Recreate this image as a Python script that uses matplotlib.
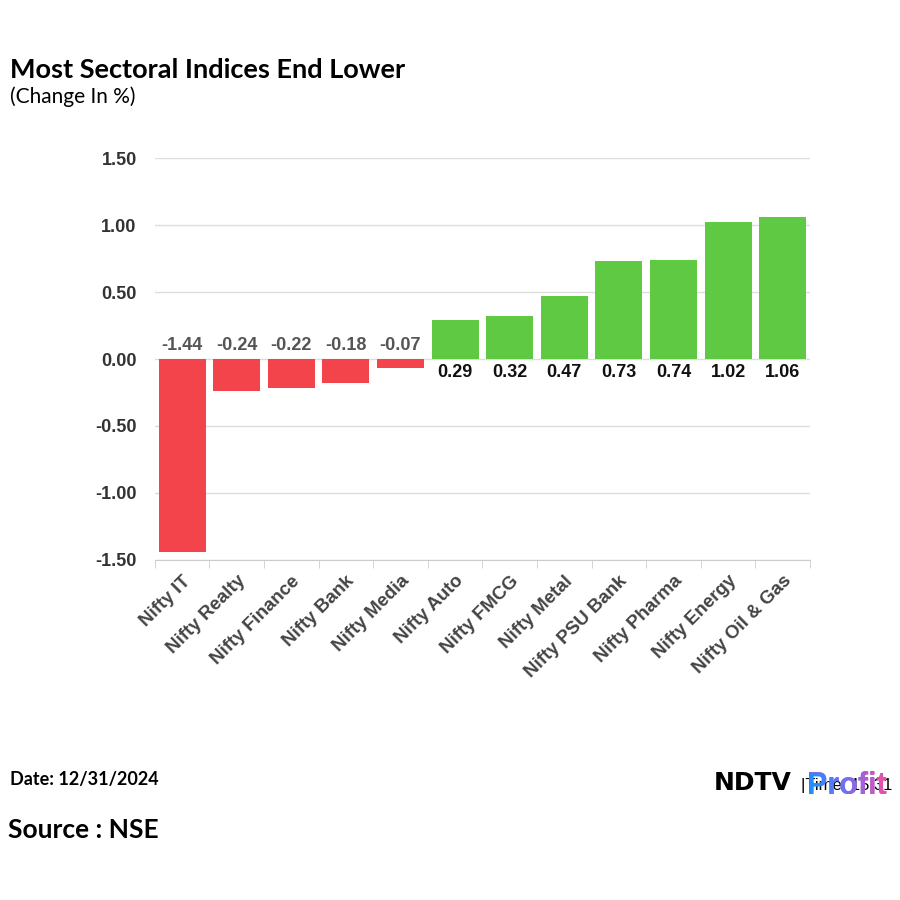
import matplotlib
matplotlib.use("Agg")
import matplotlib.pyplot as plt
import numpy as np
from matplotlib.textpath import TextPath
from matplotlib.font_manager import FontProperties
from matplotlib.patches import PathPatch
from matplotlib.transforms import Affine2D
from matplotlib.colors import LinearSegmentedColormap

# datos del grafico
sectores = ["Nifty IT", "Nifty Realty", "Nifty Finance", "Nifty Bank", "Nifty Media",
            "Nifty Auto", "Nifty FMCG", "Nifty Metal", "Nifty PSU Bank", "Nifty Pharma",
            "Nifty Energy", "Nifty Oil & Gas"]
cambios = [-1.44, -0.24, -0.22, -0.18, -0.07, 0.29, 0.32, 0.47, 0.73, 0.74, 1.02, 1.06]
yticks = [-1.5, -1.0, -0.5, 0.0, 0.5, 1.0, 1.5]

rojo = "#f4444b"
verde = "#5fc943"

plt.rcParams['font.family'] = ['Liberation Sans', 'DejaVu Sans']

fig = plt.figure(figsize=(9, 9), dpi=100)
ax = fig.add_axes([0.172, 0.3778, 0.728, 0.4466])

x = np.arange(len(sectores))
colores = [rojo if v < 0 else verde for v in cambios]
ax.bar(x, cambios, width=0.86, color=colores, zorder=3)

# etiquetas de valores
for xi, v in zip(x, cambios):
    if v < 0:
        ax.text(xi, 0.035, f"{v:.2f}", ha="center", va="bottom", fontsize=13,
                fontweight="bold", color="#555555", zorder=4)
    else:
        ax.text(xi, -0.035, f"{v:.2f}", ha="center", va="top", fontsize=13,
                fontweight="bold", color="#111111", zorder=4)

ax.set_xlim(-0.5, len(sectores) - 0.5)
ax.set_ylim(-1.5, 1.5)
ax.set_yticks(yticks)
ax.set_yticklabels([f"{t:.2f}" for t in yticks], fontsize=13, fontweight="bold", color="#333333")
ax.tick_params(axis="y", length=0, pad=13)

ax.set_xticks(x)
ax.set_xticklabels(sectores, rotation=45, ha="right", rotation_mode="anchor",
                   fontsize=13.5, fontweight="bold", color="#444444")
ax.set_xticks(np.arange(-0.5, len(sectores)), minor=True)
ax.tick_params(axis="x", which="major", length=0, pad=9)
ax.tick_params(axis="x", which="minor", length=6, color="#cccccc")

ax.grid(axis="y", color="#dddddd", linewidth=1, zorder=0)
for s in ["top", "right", "left"]:
    ax.spines[s].set_visible(False)
ax.spines["bottom"].set_color("#cccccc")

# titulos y textos
fig.text(10/900, 1 - 70/900, "Most Sectoral Indices End Lower", fontsize=19.5, fontweight="bold",
         family=["Lato", "DejaVu Sans"], va="center")
fig.text(10/900, 1 - 97/900, "(Change In %)", fontsize=15, family=["Lato", "DejaVu Sans"], va="center")
fig.text(10/900, 1 - 779/900, "Date: 12/31/2024", fontsize=13, fontweight="bold",
         family=["Lato", "DejaVu Sans"], va="center")
fig.text(8/900, 1 - 830/900, "Source : NSE", fontsize=19, fontweight="bold",
         family=["Lato", "DejaVu Sans"], va="center")

# logo
fig.text(714/900, 1 - 790/900, "NDTV", fontsize=18, fontweight="bold", color="black",
         family=["DejaVu Sans"], va="baseline", ha="left")
fig.text(801/900, 1 - 790/900, "|Time: 15:31", fontsize=12, color="black", va="baseline", ha="left")

# "Profit" con degradado: texto real y degradado recortado encima
tam = 22
base_x, base_y = 807, 900 - 794
fig.text(base_x/900, base_y/900, "Profit", fontsize=tam, fontweight="bold", color="#7b6cf0",
         va="baseline", ha="left")
ax_logo = fig.add_axes([0, 0, 1, 1], zorder=10)
ax_logo.set_xlim(0, 900)
ax_logo.set_ylim(0, 900)
ax_logo.axis("off")
tp = TextPath((0, 0), "Profit", size=tam * 100 / 72,
              prop=FontProperties(family="Liberation Sans", weight="bold"))
tp = Affine2D().translate(base_x, base_y).transform_path(tp)
patch = PathPatch(tp, facecolor="none", edgecolor="none")
ax_logo.add_patch(patch)
bb = tp.get_extents()
grad = np.linspace(0, 1, 256).reshape(1, -1)
cmap = LinearSegmentedColormap.from_list("ndtv", ["#1e90ff", "#7b6cf0", "#f24fa0"])
im = ax_logo.imshow(grad, cmap=cmap, extent=[bb.x0, bb.x1, bb.y0, bb.y1], aspect="auto")
im.set_clip_path(patch)

fig.savefig("out.png", dpi=100, facecolor="white")
